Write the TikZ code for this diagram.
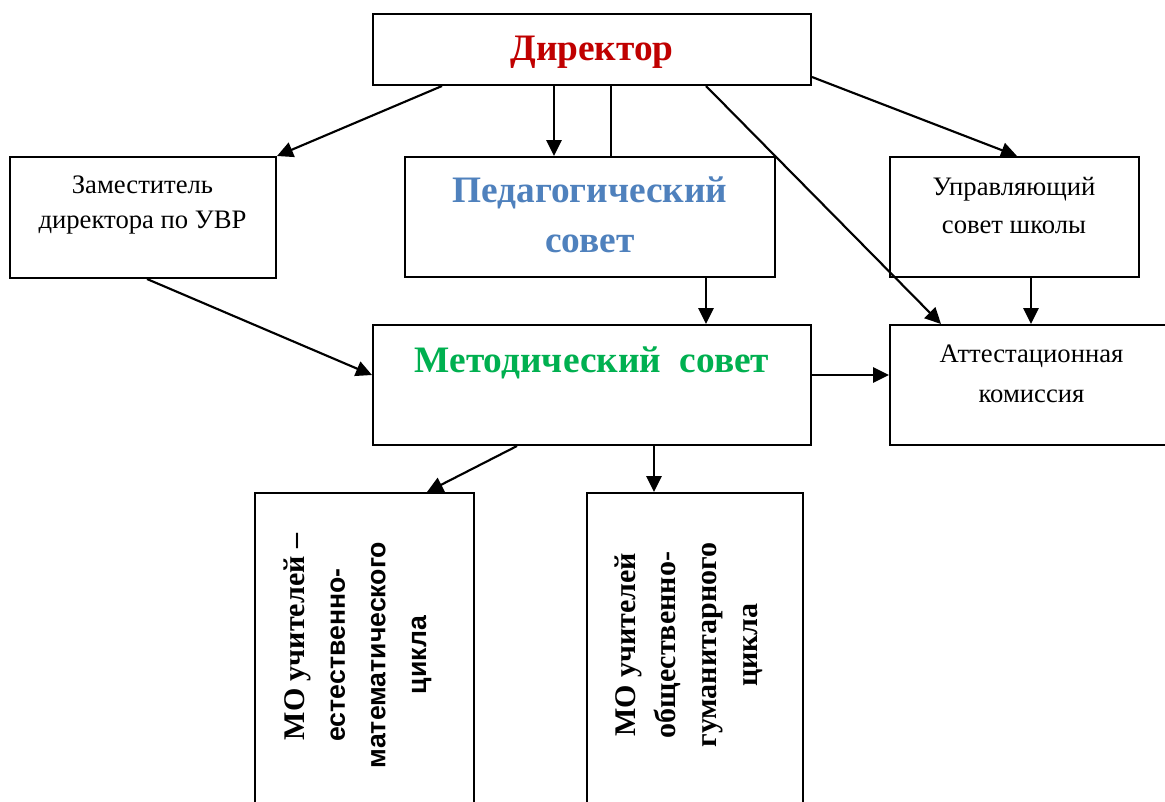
\documentclass[tikz,border=0pt]{standalone}
\usepackage{fontspec}
\usepackage{graphicx}
\setmainfont{Liberation Serif}
\newfontfamily\arialf{Liberation Sans}
\newfontfamily\timesbf{Liberation Serif Bold}
\usetikzlibrary{arrows.meta,calc}
\definecolor{dirred}{HTML}{C00000}
\definecolor{pedblue}{HTML}{4F81BD}
\definecolor{metgreen}{HTML}{00B050}
\begin{document}
\begin{tikzpicture}[x=0.75pt,y=-0.75pt,
  box/.style={draw,line width=1.5pt,rectangle,inner sep=0pt},
  conn/.style={line width=1.6pt},
  arr/.style={conn,-{Triangle[length=12pt,width=11.5pt]}},
  bigt/.style={font=\rmfamily\bfseries\fontsize{28}{37}\selectfont,align=center,anchor=base},
  smallt/.style={align=center,anchor=base},
  rott/.style={inner sep=0pt}]
\useasboundingbox (0,0) rectangle (1165,801);
\clip (0,0) rectangle (1165,801);
\fill[white] (0,0) rectangle (1165,801);
% boxes
\node[box,minimum width=438*0.75pt,minimum height=71*0.75pt] (dir) at (592,49.5) {};
\node[box,minimum width=266*0.75pt,minimum height=121*0.75pt] (zam) at (143,217.5) {};
\node[box,minimum width=370*0.75pt,minimum height=120*0.75pt] (ped) at (590,217) {};
\node[box,minimum width=249*0.75pt,minimum height=120*0.75pt] (upr) at (1014.5,217) {};
\node[box,minimum width=438*0.75pt,minimum height=120*0.75pt] (met) at (592,385) {};
\node[box,minimum width=295*0.75pt,minimum height=120*0.75pt] (att) at (1037.5,385) {};
\node[box,minimum width=219*0.75pt,minimum height=337*0.75pt] (mo1) at (364.5,661.5) {};
\node[box,minimum width=216*0.75pt,minimum height=337*0.75pt] (mo2) at (695,661.5) {};
% texts
\node[bigt,text=dirred] (dirT) at (592,60) {Директор};
\node[bigt,text=pedblue] (pedT) at (590,252) {Педагогический\\совет};
\node[bigt,text=metgreen] (metT) at (592,372) {Методический\ \ совет};
\node[smallt,font=\rmfamily\fontsize{20}{26.25}\selectfont] (zamT) at (142.5,228) {Заместитель\\директора по УВР};
\node[smallt,font=\rmfamily\fontsize{20}{28.5}\selectfont] (uprT) at (1014,233) {Управляющий\\совет школы};
\node[smallt,font=\rmfamily\fontsize{20}{30}\selectfont] (attT) at (1031.5,402) {Аттестационная\\комиссия};
\node[rott] (mo1T) at (357,655) {\rotatebox{90}{\fontsize{22.5}{30.5}\selectfont\begin{tabular}{@{}c@{}}\hspace*{27pt}{\timesbf МО учителей –}\\{\arialf\bfseries\fontsize{20}{30.5}\selectfont естественно-}\\{\arialf\bfseries\fontsize{20}{30.5}\selectfont математического}\\{\arialf\bfseries\fontsize{20}{30.5}\selectfont цикла}\end{tabular}}};
\node[rott] (mo2T) at (688,645) {\rotatebox{90}{\fontsize{22.5}{30.5}\selectfont\timesbf\begin{tabular}{@{}c@{}}МО учителей\\общественно-\\гуманитарного\\цикла\end{tabular}}};
% connectors
\draw[arr] ($(dir.south west)+(70,0)$) -- (zam.north east);
\draw[arr] ($(dir.south west)+(182,0)$) -- ($(ped.north west)+(150,0)$);
\draw[conn] ($(dir.south west)+(239,0)$) -- ($(ped.north west)+(207,0)$);
\draw[arr] ($(dir.south west)+(334,0)$) -- ($(att.north west)+(52,0)$);
\draw[arr] ($(dir.south east)+(0,-9)$) -- ($(upr.north west)+(128,0)$);
\draw[arr] ($(zam.south west)+(138,0)$) -- ($(met.west)+(0,-10)$);
\draw[arr] ($(ped.south west)+(302,0)$) -- ($(met.north west)+(334,0)$);
\draw[arr] ($(upr.south west)+(142,0)$) -- ($(att.north west)+(142,0)$);
\draw[arr] ($(met.east)+(0,-10)$) -- ($(att.west)+(0,-10)$);
\draw[arr] ($(met.south west)+(145,0)$) -- ($(mo1.north west)+(173,0)$);
\draw[arr] ($(met.south west)+(282,0)$) -- ($(mo2.north west)+(68,0)$);
\end{tikzpicture}
\end{document}
